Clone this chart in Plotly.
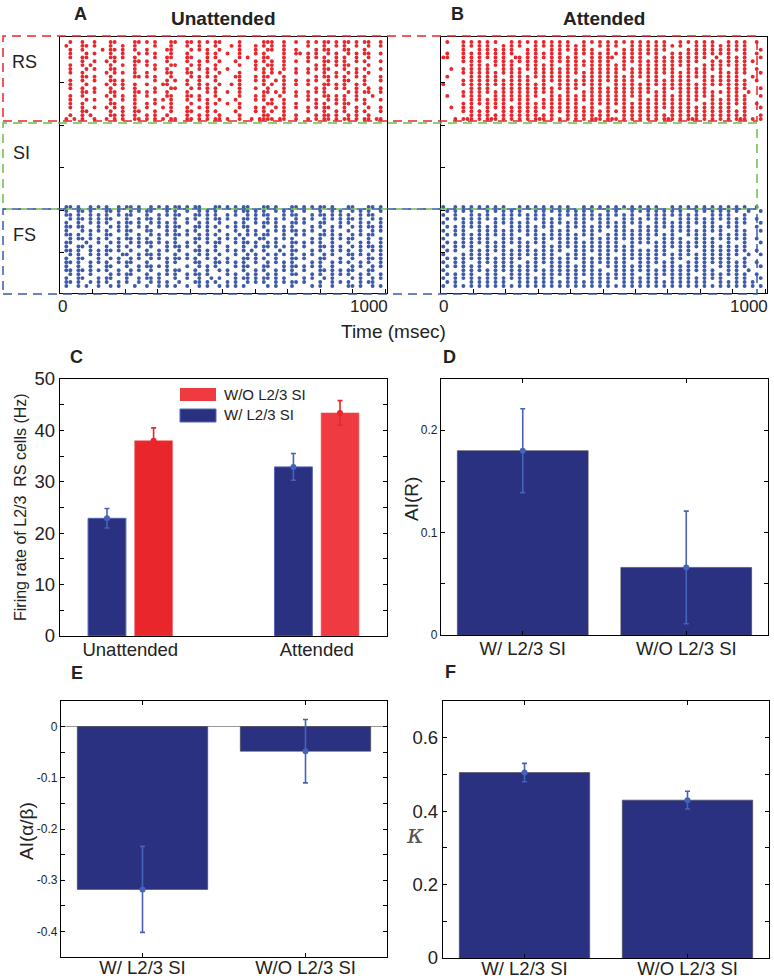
import plotly.graph_objects as go

W, H = 774, 979
FONT = "Liberation Sans, Arial, sans-serif"

# ---------------- data ----------------
# raster: each string is one neuron row, each char one 12.4 ms time bin ('x' = spike)
bin_ms = 12.4
first_ms = 7.0
time_ticks = list(range(0, 1001, 100))
time_labels = [0, 1000]

rs_unattended = [
    "..x..x..x. ..xx....xx .x.x...xx. .xx.x.x.xx ....x..... xxx..x..x. .x.x.xx.x. xx.x.xx..x",
    ".x...xx.x. ..x..x..x. ...x...x.. .x..x...x. ..x.x...x. x.x..x.... .x...x..x. x..x..x..x",
    "..x..x.... x.xx.x..x. .x....xx.. ..x.x.x..x ....x...x. .xx..x..x. ...x.xx... xx...x....",
    "..x...x.x. ..x..x...x .x.x...x.. .x....x.x. .x..x...x. x....x..xx .x.x..x.x. .x.x.xx..x",
    "..x..xx... ..xx.x..x. ...x..xx.. .xx...x.x. ....x.x... xx...x.... .x.x.x..x. x..x..x...",
    ".....x..x. .x.x....xx .x....x... .x..x.x..x ...x....x. x.x..x..x. .x...xx.x. x..x.x...x",
    "..x..x.x.. ..x..x..x. .x.x...xx. ..x.x...x. ....x...x. .xx..x.... ...x.x..x. xx....x...",
    "..x...x.x. ..xx....x. ...x..x... .x..x.x.x. .x......x. x.x..x..x. .x.x.xx... x..x.x...x",
    "..x..x.... .x.x.x..x. .x....xx.. .xx...x..x ....x..... x.x.x...x. .x...x..x. .x.x..x...",
    ".....xx.x. ..x.....xx .x.x...x.. ..x.x.x.x. ...xx...x. xx...x.... ...x.xx.x. x..x.x...x",
    "..x..x..x. ..xx.x.... ...x..x.x. .x..x...x. ....x...x. x..x.x..x. .x.x..x... xx...x...x",
    "..x...x... .x.x.x..x. .x...xx... .x..x.x..x ..x.x..... x.x..x..x. .x...xx.x. x..x.x....",
    "..x..x..x. ..x..x..x. ...x...xx. ..x.x.x.x. ....x...x. .x...x.... ...x.x..x. x..x..x..x",
    ".....xx.x. ..xx....xx .x.x..x... .x....x.x. .x..x..... xx.x.x..x. .x.x.x.... .x.x.xx..x",
    "..x..x.... .x.x.x..x. .x....xx.. .xx.x...x. ....x...x. x...x...x. .x...xx.x. x..x...x..",
    "..x...x.x. ..x..x..x. ...x.x.x.. .x..x.x..x ...x....x. x.x..x.... .x.x..x.x. x..x.x...x",
    "..x..x.... ..xx....x. .x.x...x.. ..x...x.x. .x..x..... .xx..x..x. ...x.x..x. xx...x....",
    "..x..x..x. .x.x.x..x. .x...x.x.. .x..x.x... ....x...x. x..x.x..x. .x.x.xx... x..x..x..x",
    ".....xx... ..x..x..xx ...x...x.. .xx...x.x. ...x....x. x.x..x.... .x...x..x. x..x.x...x",
    "..x..x.x.. ..xx.x..x. .x.x..x... .x..x.x..x ....x..... xx...x..x. ...x.xx.x. .x.x..x...",
    ".x.x.x..x. .x.x.x..xx .x.x.x.xx. .xx.x.x.xx .x..x..x.x xxx.xx..x. .x.x.xx.x. xx.x.xx.xx",
]

fs_unattended = [
    ".xx.x..x.x .x..x.xx.x ..x.x.x.xx .x.xx...xx .x.x.xx... xx.x...xx. x.x.xx.x.. .xx...xx.x",
    ".x..xx.x.. .xx.x..x.x .xx...x.x. .x..x.x.x. ...x.xx.x. x..x.x.x.. x...x..x.x ..x.x.x..x",
    ".xx.x..x.x .x..x.xx.. .x..x.x.xx ...xx.x.x. .x.x..x.x. xx...x.xx. ..x.xx.x.x .x..x.xx..",
    "..x.xx.x.x .xx...x..x .xx.x...x. .x.x..x.xx .x...xx.x. .x.x.x..x. x.x..x.x.x .xx.x..x.x",
    ".x..x..x.x .x..x.xx.x ..x.x.x.x. .x..x.x..x ...x.x..x. xx.x...xx. x...xx...x .x..x.x..x",
    ".xx.xx...x ..x.x.x..x .x..x.x.xx ...xx.x.x. .x.x.xx... x..x.x.x.. ..x.x..x.x ..x.x.xx.x",
    ".x...x.x.x .x..x.xx.. .xx...x.x. .x.x..x..x ...x..x.x. .x.x.x.xx. x.x..x.x.. .x..x..x.x",
    ".xx.x..x.. .xx...x..x ..x.x.x.xx .x..x.x.x. .x..x.x.x. xx...x..x. x...xx.x.x ..x.x.xx..",
    "..x.xx.x.x .x..x.xx.x .x..x...x. ...xx.x..x .x.x.x...x x..x.x.x.. ..x.x..x.x .xx...x..x",
    ".xx...x..x ..x.x..x.x .xx.x.x.x. .x.x..x.xx ...x.xx.x. .x.x...xx. x.x.x..x.. .x..x.x..x",
    ".x..xx.x.. .x..x.x..x ..x...x.xx .x..x...x. .x...x..x. xx.x.x.x.. x...xx.x.x ..x.x.xx.x",
    ".xx.x..x.x .xx.x..x.. .x..x.x..x ...xx.x.x. .x.x.x.x.. x...x..xx. ..x.x..x.x .x..x..x.x",
    "..x.x..x.x .x...xx..x .xx.x...x. .x..x.x..x ...x..x.x. .x.x.x.x.. x.x..x.x.. .xx.x.x..x",
    ".x..xx...x ..x.x..x.x ..x.x.x.xx .x.x..x.x. .x...xx.x. x..x...xx. x...xx...x ..x...xx.x",
    ".xx.x..x.x .x..x.xx.. .x....x.x. ...xx...xx .x.x.x..x. .x.x.x.x.. ..x.x..x.x .x..x.x..x",
    ".x..x..x.. .xx...x..x .xx.x.x... .x..x.x.x. ...x.xx... xx...x.xx. x.x.x..x.. ..x.x..x.x",
    ".xx.xx.x.x .x..x..x.x ..x...x.xx ...x..x..x .x...x..x. x..x.x.x.. x...xx.x.x .xx...xx..",
    "..x.x..x.. ..x.x.xx.. .x..x.x.x. .x.xx.x... .x.x..x.x. .x.x...xx. ..x.x..x.x .x..x.x..x",
    ".x..xx...x .xx...x..x .xx.x...x. .x..x..x.x ...x.xx.x. xx.x.x.... x.x..x.x.. ..x.x..x.x",
    ".xx.x..x.x .x..x.x..x ..x.x.x..x ...xx.x.x. .x.x..x.x. x..x.x.xx. x...x..x.x .x..x.xx..",
    ".x..x.x..x ..x.x...x. .x..x.x.x. .x..x.x..x .x.x.x.... .x.x...x.. ..x.x..x.. .xx.x..x.x",
]

rs_attended = [
    ".x...x.x.x .x.x...x.x .x.x.x.x.x .x...x.x.x .x.x.x.x.x .x.x.x...x .x.x.x.x.. .x.x.x..x.",
    ".....x.x.x .x...x.x.x ...x.x.x.x .x.x.x...x .x.x...x.x .x.x.x.x.x ...x.x.x.x .x.x.x....",
    ".....x...x .x.x.x.x.. .x.x...x.x .x.x.x.x.. .x...x.x.x .x.x.x.... .x.x.x.x.x .x.x.x...x",
    ".x...x.x.x .x.x.x.x.. .x.x.x.x.x ...x.x.x.x .x.x.x.x.x .x.x...x.x .x.x.x.x.x .x...x..x.",
    "xx...x.x.x .x.x.x..xx .x.x.x.x.x .x.x...x.x .xx..x.x.x ...x.x.x.x .x.x.x..x. .x.x.x...x",
    ".....x.x.x ...x.x.x.x .x.x...x.x .x.x.x.x.x .x...x.x.x .x.x.x.x.x .x.x...x.x .x.x.x.x..",
    ".......x.x .x.x.x.x.. .x.x.x.x.. .x.x.x.x.x .x.x.x...x .x.x.x.x.x .x...x.x.x .x.x.x....",
    "..x..x.x.x .x...x.x.x .x.x.x.x.x .x.x...x.x .x.x.x.x.x .x.x.x.x.. .x.x.x.x.x ...x.x..x.",
    ".....x.x.x .x.x.x.x.x ...x.x.x.x .x.x.x.x.x .x.x...x.x .x.x.x.x.x .x.x.x...x .x.x.x...x",
    ".x.....x.x .x.x...x.x .x.x.x.x.x .x...x.x.x .x.x.x.x.x .x.x...x.x .x.x.x.x.x .x.x...x..",
    ".....x.x.x .x.x.x.x.x .x...x.x.x .x.x.x.x.x .x.x.x.x.. .x.x.x.x.x .x...x.x.x .x.x.x..x.",
    "x....x.x.x .x.x.x.x.x .x.x.x...x .x.x.x.x.x ...x.x.x.x .x.x.x.x.x .x.x.x.x.x .x.x.x....",
    ".......x.x .x...x.x.x .x.x.x.x.x .x.x...x.x .x.x.x.x.x .x...x.x.x .x.x.x.... .x.x.x...x",
    ".....x.x.x .x.x.x.x.x .x.x.x.x.. .x...x.x.x .x.x.x.x.x .x.x.x...x .x.x.x.x.x .x.x..x...",
    ".x...x.x.x ...x.x.x.x .x.x...x.x .x.x.x.x.x .x.x.x.x.x ...x.x.x.x .x.x.x.x.. .x.x.x...x",
    ".......x.x .x.x.x.x.x .x...x.x.x .x.x.x.x.x .x.x.x...x .x.x.x.x.x .x.x...x.x .x.x.x....",
    ".....x.x.x .x.x.x...x .x.x.x.x.x .x.x...x.x .x.x.x.x.x .x.x.x.x.x .x...x.x.x .x.x.x..x.",
    "..x..x.x.. .x.x.x.x.x .x.x.x.x.x .x.x.x.x.. .x...x.x.x .x.x.x.x.x .x.x.x.x.x .x...x...x",
    ".....x.x.x .x...x.x.x .x.x...x.x .x.x.x.x.x .x.x.x.x.x .x.x...x.x .x.x.x.x.x .x.x.x....",
    ".......x.x .x.x.x.x.x .x.x.x.x.. .x.x.x.x.x .x...x.x.x .x.x.x.x.x .x.x.x.x.x .x.x.x...x",
    "...x.xxx.x .xxx.x.x.x .x.xxx.x.x .x.x.x.xxx .xxx.x.x.x .x.x.xxx.x .xxx.x.x.x .x.xxx.x.x",
]

fs_attended = [
    "x..x.x.x.x .x.x.x...x .x.x.x.x.x .x...x.x.x .x.x.x.x.x .x.x...x.x .x.x.x.x.x .x.x.x..x.",
    ".x.x.x.x.. .x.x.x.x.x ...x.x.x.x .x.x.x.x.. .x.x...x.x .x.x.x.x.x ...x.x.x.x .x.x..x..x",
    "x..x...x.x .x...x.x.x .x.x.x...x .x.x.x.x.x .x.x.x.x.. .x.x.x.x.x .x.x...x.x .x...x....",
    ".x.x.x.x.x .x.x.x.x.. .x.x.x.x.x ...x.x.x.x .x...x.x.x .x.x.x...x .x.x.x.x.x .x.x.x..x.",
    "x....x.x.x ...x.x.x.x .x...x.x.x .x.x.x...x .x.x.x.x.x ...x.x.x.x .x.x.x.x.. .x.x.x...x",
    ".x.x.x.x.x .x.x...x.x .x.x.x.x.. .x.x.x.x.x .x.x.x...x .x.x.x.x.x .x...x.x.x .x.x....x.",
    "x..x.x...x .x.x.x.x.x .x.x...x.x .x...x.x.x ...x.x.x.x .x.x...x.x .x.x.x.x.x ...x.x...x",
    ".x.x.x.x.x .x.x.x.x.. .x.x.x.x.x .x.x.x.x.. .x.x.x.x.x .x.x.x.x.. .x.x.x...x .x.x.x....",
    "x....x.x.x .x...x.x.x ...x.x.x.x .x.x...x.x .x.x.x.x.x .x...x.x.x ...x.x.x.x .x.x.x..x.",
    ".x.x.x.x.x .x.x.x.x.x .x.x.x...x .x.x.x.x.x .x.x...x.x .x.x.x.x.x .x.x.x.x.. .x...x...x",
    "x..x.x.x.. .x.x.x...x .x...x.x.x .x.x.x.x.x .x.x.x.x.. ...x.x.x.x .x.x.x.x.x .x.x.x....",
    ".x.x...x.x .x.x.x.x.x .x.x.x.x.x ...x.x.x.x .x.x.x.x.x .x.x.x...x .x...x.x.x .x.x.x..x.",
    "x....x.x.x .x...x.x.x .x.x.x.x.. .x.x.x...x .x...x.x.x .x.x.x.x.x .x.x.x.x.x .x.x..x..x",
    ".x.x.x.x.x .x.x.x.x.x ...x.x.x.x .x.x.x.x.x .x.x.x.x.x .x.x...x.x ...x.x.x.x .x...x....",
    "x..x.x...x .x.x.x.x.. .x.x.x.x.x .x...x.x.x .x.x.x...x .x.x.x.x.. .x.x.x.x.x .x.x.x..x.",
    ".x.x.x.x.x ...x.x.x.x .x.x...x.x .x.x.x.x.. .x.x.x.x.x .x...x.x.x .x.x.x...x .x.x.x...x",
    "x....x.x.x .x.x.x.x.x .x.x.x.x.x .x.x.x.x.x ...x.x.x.x .x.x.x.x.x .x.x.x.x.. .x.x..x...",
    ".x.x.x.x.. .x.x...x.x .x...x.x.x .x.x.x.x.x .x.x.x.x.. .x.x.x.x.x .x...x.x.x .x.x.x..x.",
    "x..x.x.x.x .x.x.x.x.x .x.x.x.x.. .x.x...x.x .x.x.x.x.x .x.x...x.x .x.x.x.x.x ...x.x...x",
    ".x.x...x.x .x.x.x...x .x.x.x.x.x .x.x.x.x.x .x...x.x.x .x.x.x.x.x .x.x.x...x .x.x.x.x..",
    "x..x.x.x.x .x.x.x.x.x .x.x.x.x.x .x.x.x.x.x .x.x.x.x.x .x.x.x.x.x .x.x.x.x.x .x.x.x.x.x",
]

# panel C
c_groups = ["Unattended", "Attended"]
c_with_si = [22.9, 32.9]
c_with_si_err = [1.9, 2.6]
c_without_si = [38.0, 43.4]
c_without_si_err = [2.5, 2.4]

# panels D, E, F
conds = ["W/ L2/3 SI", "W/O L2/3 SI"]
ai_r = [0.18, 0.066]
ai_r_err = [0.041, 0.055]
ai_ab = [-0.318, -0.048]
ai_ab_err = [0.084, 0.062]
kappa = [0.505, 0.43]
kappa_err = [0.025, 0.024]

# ---------------- styles ----------------
RED = "#E8262C"
RED2 = "#EE3A40"
RASTER_BLUE = "#3D5AAB"
NAVY = "#2B3181"
ERR_BLUE = "#4563B8"
GREEN = "#6DBE45"


def dx(p0, p1):
    return [p0 / W, p1 / W]


def dy(p0, p1):
    return [1 - p1 / H, 1 - p0 / H]


def px(x):
    return x / W


def py(y):
    return 1 - y / H


fig = go.Figure()

# ---------------- rasters ----------------
RS_Y0, RS_DY = 5.0, 3.85
FS_Y0, FS_DY = 170.0, 3.95


def raster_xy(rows, y0, ddy):
    xs, ys = [], []
    for i, row in enumerate(rows):
        s = row.replace(" ", "")
        for k, ch in enumerate(s):
            if ch == "x":
                xs.append(first_ms + bin_ms * k)
                ys.append(y0 + ddy * i)
    return xs, ys


for rows, y0, ddy, col, ax in [
    (rs_unattended, RS_Y0, RS_DY, RED, "1"),
    (fs_unattended, FS_Y0, FS_DY, RASTER_BLUE, "1"),
    (rs_attended, RS_Y0, RS_DY, RED, "2"),
    (fs_attended, FS_Y0, FS_DY, RASTER_BLUE, "2"),
]:
    xs, ys = raster_xy(rows, y0, ddy)
    fig.add_trace(go.Scatter(
        x=xs, y=ys, mode="markers",
        marker=dict(size=3.9, color=col, line=dict(width=0)),
        xaxis="x" if ax == "1" else "x2", yaxis="y" if ax == "1" else "y2",
        showlegend=False, hoverinfo="skip"))

# ---------------- panel C ----------------
cpos = [1, 2]
bw = 0.203
off_b, off_r = -0.2265, 0.0235
fig.add_trace(go.Bar(x=cpos, y=c_with_si, width=bw, offset=off_b,
                     marker=dict(color=NAVY, line=dict(color="#5566B5", width=1)),
                     xaxis="x3", yaxis="y3", showlegend=False))
fig.add_trace(go.Bar(x=cpos, y=c_without_si, width=bw, offset=off_r,
                     marker=dict(color=[RED, RED2], line=dict(color="#F06066", width=0.6)),
                     xaxis="x3", yaxis="y3", showlegend=False))
fig.add_trace(go.Scatter(x=[p + off_b + bw / 2 for p in cpos], y=c_with_si, mode="markers",
                         marker=dict(size=6, color=ERR_BLUE),
                         error_y=dict(type="data", array=c_with_si_err, color=ERR_BLUE, thickness=1.6, width=2.5),
                         xaxis="x3", yaxis="y3", showlegend=False))
fig.add_trace(go.Scatter(x=[p + off_r + bw / 2 for p in cpos], y=c_without_si, mode="markers",
                         marker=dict(size=6, color=RED),
                         error_y=dict(type="data", array=c_without_si_err, color=RED, thickness=1.6, width=2.5),
                         xaxis="x3", yaxis="y3", showlegend=False))

# ---------------- panels D, E, F ----------------
for vals, errs, xa, ya in [(ai_r, ai_r_err, "x4", "y4"),
                           (ai_ab, ai_ab_err, "x5", "y5"),
                           (kappa, kappa_err, "x6", "y6")]:
    fig.add_trace(go.Bar(x=[1, 2], y=vals, width=0.8,
                         marker=dict(color=NAVY, line=dict(color="#444", width=0.6)),
                         xaxis=xa, yaxis=ya, showlegend=False))
    fig.add_trace(go.Scatter(x=[1, 2], y=vals, mode="markers",
                             marker=dict(size=6, color=ERR_BLUE),
                             error_y=dict(type="data", array=errs, color=ERR_BLUE, thickness=1.6, width=2.5),
                             xaxis=xa, yaxis=ya, showlegend=False))

# ---------------- axes ----------------
base = dict(showline=True, linecolor="black", linewidth=1.3, mirror=True,
            ticks="inside", ticklen=4, tickcolor="black", tickwidth=1,
            showgrid=False, zeroline=False, fixedrange=True, automargin=False,
            tickfont=dict(family=FONT, size=17, color="#222"))


def ax(**kw):
    d = dict(base)
    d.update(kw)
    return d


raster_y_ticks = [45.5, 88, 130.5, 173, 215.5]
XLAB = dict(family=FONT, size=18.5, color="#222")
layout_axes = dict(
    xaxis=ax(domain=dx(60, 387), anchor="y", range=[0, 1006], tickvals=time_ticks,
             showticklabels=False),
    yaxis=ax(domain=dy(37, 293), anchor="x", range=[256, 0], tickvals=raster_y_ticks,
             showticklabels=False),
    xaxis2=ax(domain=dx(441, 767), anchor="y2", range=[0, 1006], tickvals=time_ticks,
              showticklabels=False),
    yaxis2=ax(domain=dy(37, 293), anchor="x2", range=[256, 0], tickvals=raster_y_ticks,
              showticklabels=False),
    xaxis3=ax(domain=dx(60, 387), anchor="y3", range=[0.623, 2.377], tickvals=cpos,
              ticktext=c_groups, ticklen=0, tickfont=XLAB, ticklabelstandoff=-3),
    yaxis3=ax(domain=dy(379, 636), anchor="x3", range=[0, 50],
              tickvals=list(range(0, 51, 5)),
              ticktext=[str(v) if v % 10 == 0 else "" for v in range(0, 51, 5)],
              tickfont=dict(family=FONT, size=18.5, color="#222"), mirror="ticks"),
    xaxis4=ax(domain=dx(441, 768), anchor="y4", range=[0.5, 2.5], tickvals=[1, 2],
              ticktext=conds, mirror="ticks", tickfont=XLAB, ticklabelstandoff=-3),
    yaxis4=ax(domain=dy(379, 635), anchor="x4", range=[0, 0.25],
              tickvals=[0, 0.05, 0.1, 0.15, 0.2, 0.25],
              ticktext=["0", "", "0.1", "", "0.2", ""], mirror="ticks",
              tickfont=dict(family=FONT, size=12, color="#222")),
    xaxis5=ax(domain=dx(61, 387), anchor="y5", range=[0.5, 2.5], tickvals=[1, 2],
              ticktext=conds, mirror="ticks", tickfont=XLAB, ticklabelstandoff=-6),
    yaxis5=ax(domain=dy(701, 957), anchor="x5", range=[-0.45, 0.05],
              tickvals=[-0.45, -0.4, -0.35, -0.3, -0.25, -0.2, -0.15, -0.1, -0.05, 0, 0.05],
              ticktext=["", "-0.4", "", "-0.3", "", "-0.2", "", "-0.1", "", "0", ""],
              mirror="ticks", zeroline=True, zerolinecolor="#999", zerolinewidth=1.2,
              tickfont=dict(family=FONT, size=12, color="#222")),
    xaxis6=ax(domain=dx(443, 769), anchor="y6", range=[0.5, 2.5], tickvals=[1, 2],
              ticktext=conds, mirror="ticks", tickfont=XLAB, ticklabelstandoff=-6),
    yaxis6=ax(domain=dy(701, 958), anchor="x6", range=[0, 0.7],
              tickvals=[0, 0.1, 0.2, 0.3, 0.4, 0.5, 0.6, 0.7],
              ticktext=["0", "", "0.2", "", "0.4", "", "0.6", ""], mirror="ticks",
              tickfont=dict(family=FONT, size=18.5, color="#222")),
)

# ---------------- annotations ----------------
def txt(x, y, s, size=17, bold=False, xanchor="center", angle=0, family=FONT, color="#222", italic=False):
    if bold:
        s = "<b>" + s + "</b>"
    if italic:
        s = "<i>" + s + "</i>"
    return dict(x=px(x), y=py(y), xref="paper", yref="paper", text=s, showarrow=False,
                xanchor=xanchor, yanchor="middle", textangle=angle,
                font=dict(family=family, size=size, color=color))


annotations = [
    txt(80, 14, "A", 18, bold=True),
    txt(224, 19, "Unattended", 19, bold=True),
    txt(457, 14, "B", 18, bold=True),
    txt(604, 19, "Attended", 19, bold=True),
    txt(25, 62, "RS", 18),
    txt(21, 153, "SI", 18),
    txt(24, 235, "FS", 18),
    txt(393, 331, "Time (msec)", 19),
    txt(76, 357, "C", 18, bold=True),
    txt(449, 357, "D", 18, bold=True),
    txt(77, 673, "E", 18, bold=True),
    txt(450, 672, "F", 18, bold=True),
    txt(21, 507, "Firing rate of L2/3\u00a0 RS cells (Hz)", 16, angle=-90),
    txt(411, 499, "AI(R)", 19, angle=-90),
    txt(26, 831, "AI(\u03b1/\u03b2)", 19, angle=-90),
    txt(415, 834, "\u03ba", 26, family="DejaVu Serif, Liberation Serif, serif", color="#555", italic=True),
    txt(222, 395, "W/O L2/3 SI", 15, xanchor="left"),
    txt(222, 415, "W/ L2/3 SI", 15, xanchor="left"),
]

# raster time tick labels, placed on the time axes
for xref in ["x", "x2"]:
    for v in time_labels:
        annotations.append(dict(
            x=v, y=py(306), xref=xref, yref="paper", text=str(v), showarrow=False,
            xanchor="center", yanchor="middle", xshift=(-16 if v == 1000 else 2),
            font=dict(family=FONT, size=17, color="#222")))

# ---------------- shapes ----------------
def dash_rect(x0, y0, x1, y1, color):
    return dict(type="rect", xref="paper", yref="paper", x0=px(x0), x1=px(x1),
                y0=py(y1), y1=py(y0), line=dict(color=color, width=1.5, dash="9px,6px"),
                fillcolor="rgba(0,0,0,0)", layer="above")


shapes = [
    dash_rect(3, 36, 757, 121, RED),
    dash_rect(3, 123, 757, 209, GREEN),
    dash_rect(3, 209, 757, 294, RASTER_BLUE),
    dict(type="rect", xref="paper", yref="paper", x0=px(180), x1=px(216), y0=py(401), y1=py(388),
         fillcolor=RED2, line=dict(width=0)),
    dict(type="rect", xref="paper", yref="paper", x0=px(180), x1=px(216), y0=py(422), y1=py(409),
         fillcolor=NAVY, line=dict(color="#5566B5", width=1)),
]

fig.update_layout(
    width=W, height=H, margin=dict(l=0, r=0, t=0, b=0),
    paper_bgcolor="white", plot_bgcolor="white",
    barmode="overlay", showlegend=False, hovermode=False,
    annotations=annotations, shapes=shapes,
    **layout_axes,
)

fig.write_html("out.html", config={"displayModeBar": False},
               post_script="document.body.style.margin='0px';document.body.style.overflow='hidden';")
